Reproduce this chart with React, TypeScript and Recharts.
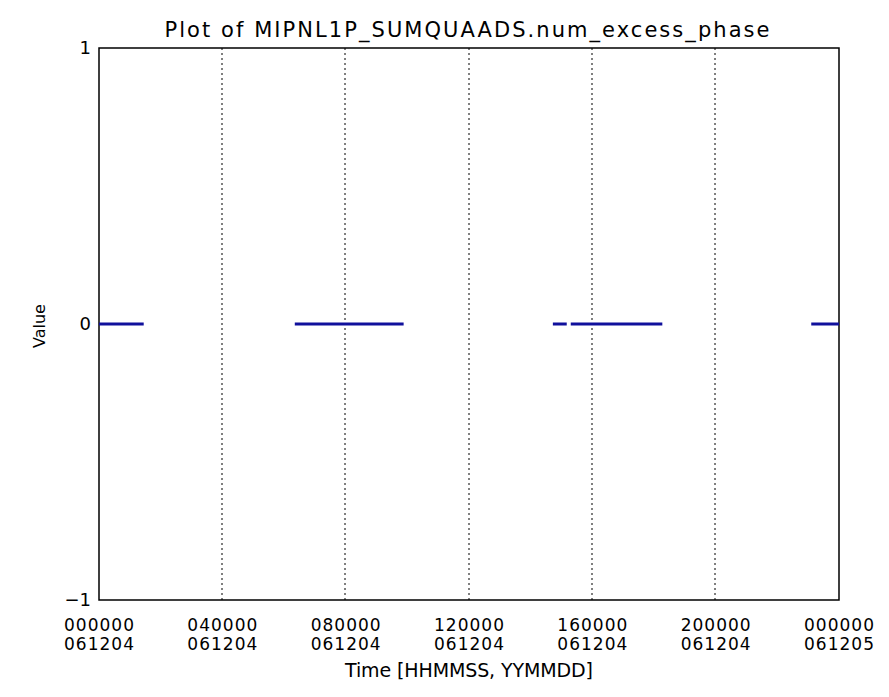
import { LineChart, Line, XAxis, YAxis, CartesianGrid, ReferenceArea } from 'recharts';

// hours since 000000 061204
const segStarts = [0, 6.35, 14.72, 15.3, 23.1];
const segEnds = [1.45, 9.88, 15.17, 18.27, 24];
const segValues = [0, 0, 0, 0, 0];

const tickHours = [0, 4, 8, 12, 16, 20, 24];
const tickTimes = ['000000', '040000', '080000', '120000', '160000', '200000', '000000'];
const tickDates = ['061204', '061204', '061204', '061204', '061204', '061204', '061205'];
const yTicks = [-1, 0, 1];

const data: { t: number; v: number | null }[] = [];
segStarts.forEach((s, i) => {
  data.push({ t: s, v: segValues[i] });
  data.push({ t: segEnds[i], v: segValues[i] });
  if (i < segStarts.length - 1) data.push({ t: (segEnds[i] + segStarts[i + 1]) / 2, v: null });
});

const font = '"DejaVu Sans", Verdana, sans-serif';

const XTick = ({ x, payload }: any) => {
  const i = tickHours.indexOf(payload.value);
  return (
    <g>
      <text x={x} y={631} textAnchor="middle" fontSize={17} fontFamily={font} fill="#000" textLength={70} lengthAdjust="spacing">
        {tickTimes[i]}
      </text>
      <text x={x} y={650} textAnchor="middle" fontSize={17} fontFamily={font} fill="#000" textLength={70} lengthAdjust="spacing">
        {tickDates[i]}
      </text>
    </g>
  );
};

export default function App() {
  return (
    <div style={{ position: 'absolute', left: 0, top: 0, background: '#fff' }}>
      <LineChart width={889} height={697} data={data} margin={{ top: 48, right: 50, left: 39, bottom: 27 }}>
        <text x={467} y={37} textAnchor="middle" fontSize={21} fontFamily={font} fill="#000" textLength={605} lengthAdjust="spacing">
          Plot of MIPNL1P_SUMQUAADS.num_excess_phase
        </text>
        <text x={469} y={677} textAnchor="middle" fontSize={19} fontFamily={font} fill="#000" textLength={248} lengthAdjust="spacing">
          Time [HHMMSS, YYMMDD]
        </text>
        <text x={45} y={326} textAnchor="middle" fontSize={16} fontFamily={font} fill="#000" transform="rotate(-90, 45, 326)">
          Value
        </text>
        <CartesianGrid horizontal={false} stroke="#000" strokeDasharray="2 3" verticalPoints={[222, 345, 469, 592, 715]} />
        <XAxis
          dataKey="t"
          type="number"
          domain={[0, 24]}
          ticks={tickHours}
          interval={0}
          axisLine={false}
          tickLine={false}
          tick={<XTick />}
          height={70}
        />
        <YAxis
          type="number"
          domain={[-1, 1]}
          ticks={yTicks}
          axisLine={false}
          tickLine={false}
          width={60}
          tick={{ fontSize: 18, fontFamily: font, fill: '#000' }}
          tickFormatter={(v: number) => (v < 0 ? '\u2212' + Math.abs(v) : String(v))}
        />
        <ReferenceArea x1={0} x2={24} y1={-1} y2={1} fill="none" stroke="#000" strokeWidth={1.5} />
        <Line dataKey="v" stroke="#10109c" strokeWidth={3} dot={false} isAnimationActive={false} connectNulls={false} />
      </LineChart>
    </div>
  );
}
